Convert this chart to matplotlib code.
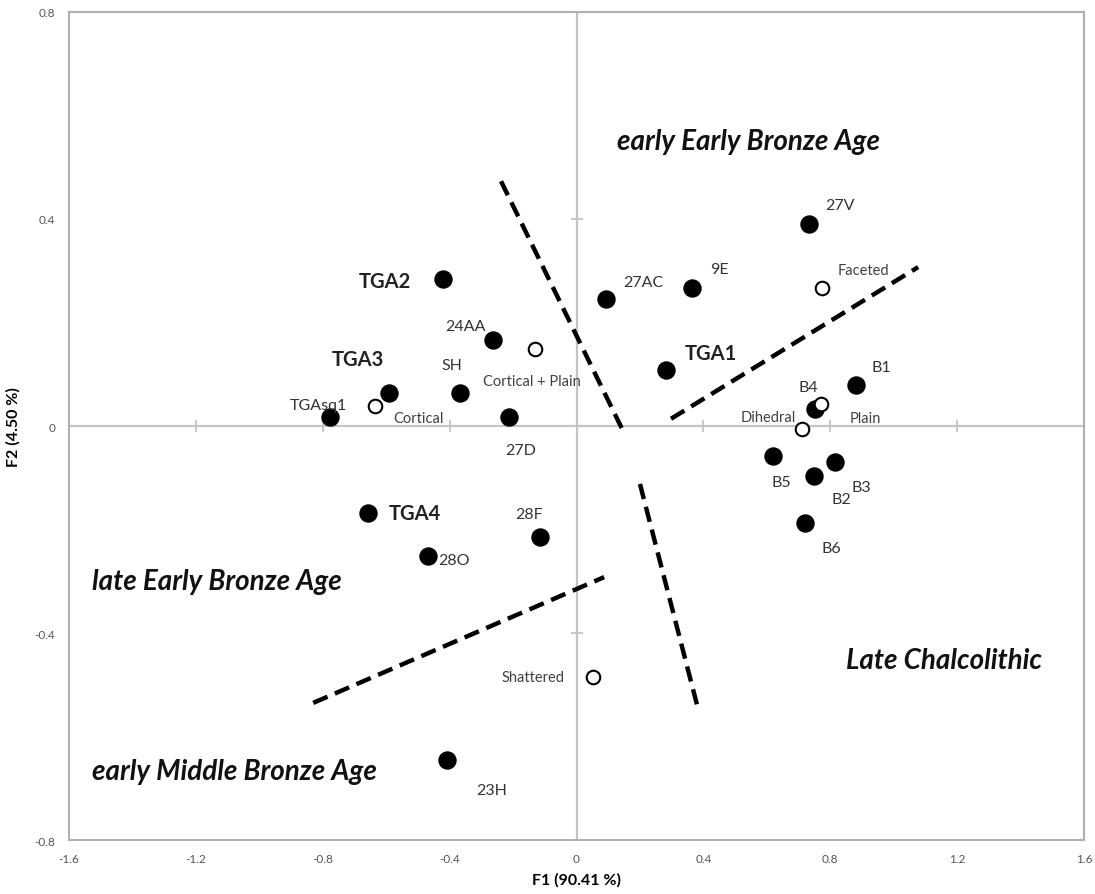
import matplotlib
matplotlib.use("Agg")
import matplotlib.pyplot as plt

plt.rcParams['font.family'] = ['Lato', 'DejaVu Sans']

# sites / assemblages (filled circles)
site_names = ["TGAsq1", "TGA3", "SH", "27D", "24AA", "TGA2", "27AC", "9E", "27V",
              "TGA1", "B1", "B4", "B5", "B2", "B3", "B6", "TGA4", "28O", "28F", "23H"]
site_f1 = [-0.777, -0.591, -0.367, -0.213, -0.263, -0.421, 0.093, 0.364, 0.733,
           0.282, 0.881, 0.752, 0.619, 0.749, 0.815, 0.720, -0.657, -0.468, -0.115, -0.408]
site_f2 = [0.017, 0.064, 0.064, 0.017, 0.166, 0.284, 0.245, 0.267, 0.390,
           0.108, 0.079, 0.033, -0.058, -0.097, -0.070, -0.187, -0.168, -0.251, -0.214, -0.645]
site_bold = ["TGA1", "TGA2", "TGA3", "TGA4"]
# label offsets (pixels)
site_off = [(-12, 12), (-31, 34), (-8, 28), (12, -33), (-28, 14), (-58, -2), (37, 17),
            (27, 19), (31, 19), (45, 17), (25, 18), (-7, 22), (8, -26), (27, -23),
            (26, -25), (26, -25), (47, 0), (26, -4), (-11, 23), (45, -30)]

# platform types (open circles)
plat_names = ["Faceted", "Cortical + Plain", "Cortical", "Plain", "Dihedral", "Shattered"]
plat_f1 = [0.774, -0.131, -0.635, 0.771, 0.711, 0.052]
plat_f2 = [0.267, 0.149, 0.039, 0.043, -0.006, -0.485]
plat_off = [(41, 18), (-3, -32), (43, -12), (44, -14), (-34, 12), (-60, 0)]

# dashed boundaries
bounds = [
    ([-0.238, 0.144], [0.473, -0.006]),
    ([0.298, 1.077], [0.014, 0.307]),
    ([0.200, 0.380], [-0.112, -0.539]),
    ([-0.830, 0.087], [-0.535, -0.292]),
]

regions = ["early Early Bronze Age", "late Early Bronze Age",
           "Late Chalcolithic", "early Middle Bronze Age"]
region_xy = [(0.128, 0.551), (-1.527, -0.300), (0.849, -0.452), (-1.527, -0.667)]

xticks = [-1.6, -1.2, -0.8, -0.4, 0, 0.4, 0.8, 1.2, 1.6]
yticks = [-0.8, -0.4, 0, 0.4, 0.8]

fig = plt.figure(figsize=(10.95, 8.95), dpi=100)
ax = fig.add_axes([0.063, 0.0603, 0.927, 0.9252])

grey = '#c4c4c4'
ax.axhline(0, color=grey, lw=1.6, zorder=1)
ax.axvline(0, color=grey, lw=1.6, zorder=1)
# small tick marks on the zero axes
xt = [v for v in xticks if v not in (0, -1.6, 1.6)]
yt = [v for v in yticks if v not in (0, -0.8, 0.8)]
ax.plot(xt, [0] * len(xt), ls='none', marker='|', ms=8, mew=1.3, color=grey, zorder=1)
ax.plot([0] * len(yt), yt, ls='none', marker='_', ms=8, mew=1.3, color=grey, zorder=1)

for bx, by in bounds:
    ax.plot(bx, by, color='black', lw=3.2, ls=(0, (3.5, 1.8)), zorder=2)

ax.scatter(site_f1, site_f2, s=150, color='black', zorder=3)
ax.scatter(plat_f1, plat_f2, s=95, facecolor='white', edgecolor='black',
           linewidth=1.5, zorder=4)

for n, x, y, off in zip(site_names, site_f1, site_f2, site_off):
    if n in site_bold:
        ax.annotate(n, (x, y), xytext=off, textcoords='offset pixels', ha='center',
                    va='center', fontsize=14.5, fontweight='bold', color='#222222')
    else:
        ax.annotate(n, (x, y), xytext=off, textcoords='offset pixels', ha='center',
                    va='center', fontsize=11.5, color='#333333')

for n, x, y, off in zip(plat_names, plat_f1, plat_f2, plat_off):
    ax.annotate(n, (x, y), xytext=off, textcoords='offset pixels', ha='center',
                va='center', fontsize=10.5, color='#404040')

for t, (x, y) in zip(regions, region_xy):
    ax.text(x, y, t, ha='left', va='center', fontsize=20, fontweight='bold',
            fontstyle='italic', color='#111111')

ax.set_xlim(-1.6, 1.6)
ax.set_ylim(-0.8, 0.8)
ax.set_xticks(xticks)
ax.set_yticks(yticks)
ax.set_xticklabels([f"{v:g}" for v in xticks])
ax.set_yticklabels([f"{v:g}" for v in yticks])
ax.tick_params(length=0, labelsize=8.5, colors='#555555')
ax.tick_params(axis='x', pad=9)
ax.tick_params(axis='y', pad=10)
for s in ax.spines.values():
    s.set_color('#b0b0b0')
    s.set_linewidth(1.5)

ax.set_xlabel("F1 (90.41 %)", fontsize=11.5, fontweight='bold', labelpad=6)
ax.set_ylabel("F2 (4.50 %)", fontsize=11.5, fontweight='bold', labelpad=10)

fig.savefig("out.png", dpi=100)
